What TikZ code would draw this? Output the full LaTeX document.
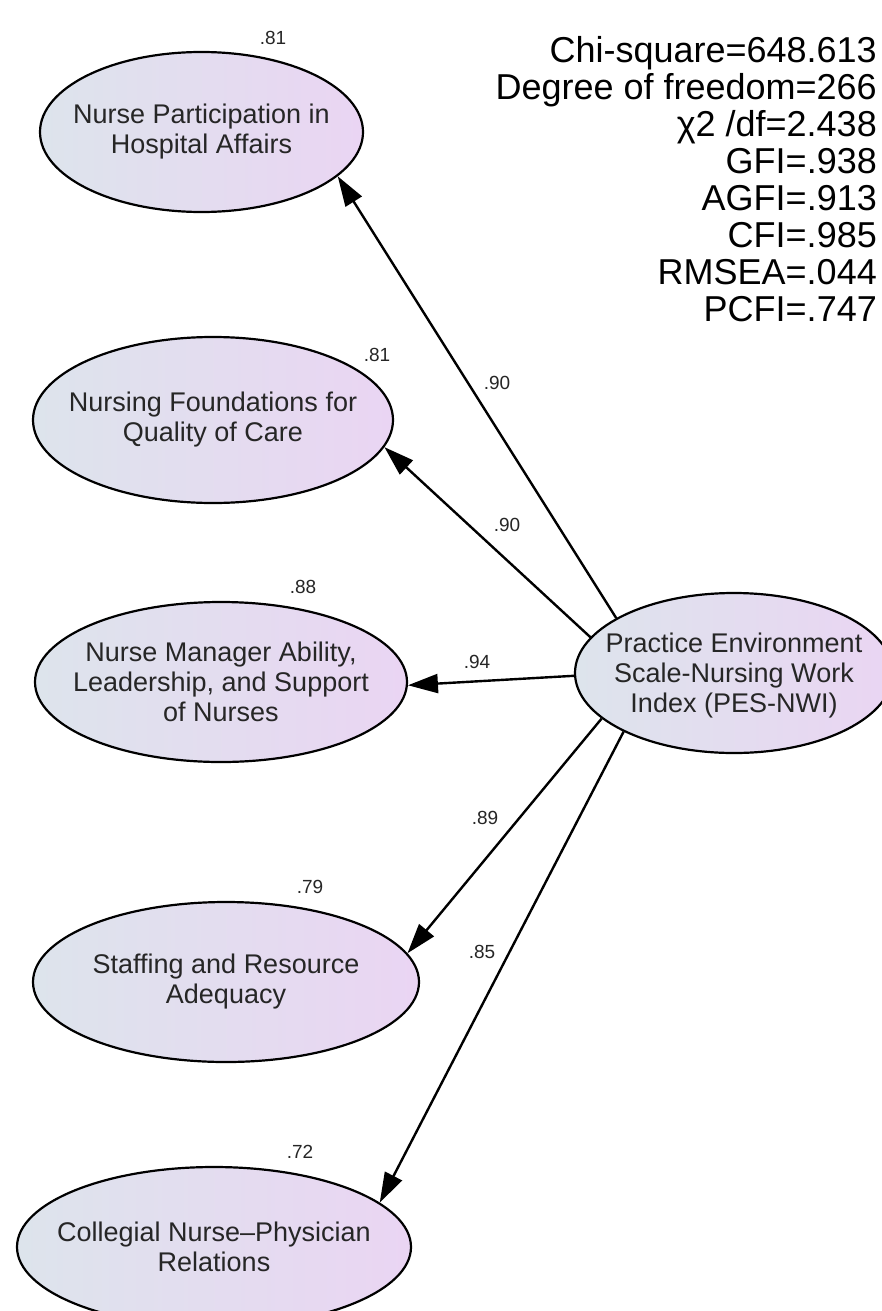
\documentclass[tikz,border=0pt]{standalone}
\usepackage{fontspec}
\setmainfont{Liberation Sans}
\usetikzlibrary{arrows.meta, shapes.geometric}
\definecolor{latleft}{RGB}{221,228,236}
\definecolor{latright}{RGB}{234,213,243}
\tikzset{
  latent/.style   = {draw, ellipse, line width=2.2pt, left color=latleft, right color=latright,
                     inner sep=0pt},
  factortext/.style = {align=center, inner sep=0pt, font=\fontsize{27}{30}\selectfont, text=black!85},
  load/.style     = {-{Triangle[length=30pt, width=19pt]}, line width=2.4pt},
  weight/.style   = {inner sep=0pt, font=\fontsize{19}{19}\selectfont, text=black!85},
  fitstats/.style = {align=right, inner sep=0pt, font=\fontsize{36}{37}\selectfont},
}
\begin{document}
\begin{tikzpicture}[x=1pt, y=-1pt]
\clip (0,0) rectangle (882,1311);
\fill[white] (0,0) rectangle (882,1311);

% latent factors
\node[latent, minimum width=323pt, minimum height=160pt] (npha) at (201.5,132) {};
\node[latent, minimum width=360pt, minimum height=166pt] (nfqc) at (213,420) {};
\node[latent, minimum width=372pt, minimum height=160pt] (nmal) at (221,682) {};
\node[latent, minimum width=386pt, minimum height=160pt] (sra)  at (226,982) {};
\node[latent, minimum width=394pt, minimum height=160pt] (cnpr) at (214,1247) {};
\node[latent, minimum width=318pt, minimum height=160pt] (pes)  at (734,673) {};

\node[factortext] at (npha) {Nurse Participation in\\Hospital Affairs};
\node[factortext] at (nfqc) {Nursing Foundations for\\Quality of Care};
\node[factortext] at (nmal) {Nurse Manager Ability,\\Leadership, and Support\\of Nurses};
\node[factortext] at (sra)  {Staffing and Resource\\Adequacy};
\node[factortext] at (cnpr) {Collegial Nurse--Physician\\Relations};
\node[factortext] at ([yshift=-3pt]pes) {Practice Environment\\Scale-Nursing Work\\Index (PES-NWI)};

% loadings
\foreach \a/\f/\b in {155.6/npha/-18, 166/nfqc/-9, 181/nmal/-1, 199.3/sra/9.4, 208/cnpr/15.6}
  \draw[load] (pes.\a) -- (\f.\b);

\node[weight] (l1) at (497,383) {.90};
\node[weight] (l2) at (507,525) {.90};
\node[weight] (l3) at (477,662) {.94};
\node[weight] (l4) at (485,818) {.89};
\node[weight] (l5) at (482,952) {.85};

% squared multiple correlations
\node[weight] (r1) at (273,38)   {.81};
\node[weight] (r2) at (377,355)  {.81};
\node[weight] (r3) at (303,587)  {.88};
\node[weight] (r4) at (310,887)  {.79};
\node[weight] (r5) at (300,1152) {.72};

% model fit
\node[fitstats, anchor=north east] (fit) at (877,36)
  {Chi-square=648.613\\Degree of freedom=266\\χ2 /df=2.438\\GFI=.938\\AGFI=.913\\CFI=.985\\RMSEA=.044\\PCFI=.747};

\end{tikzpicture}
\end{document}
